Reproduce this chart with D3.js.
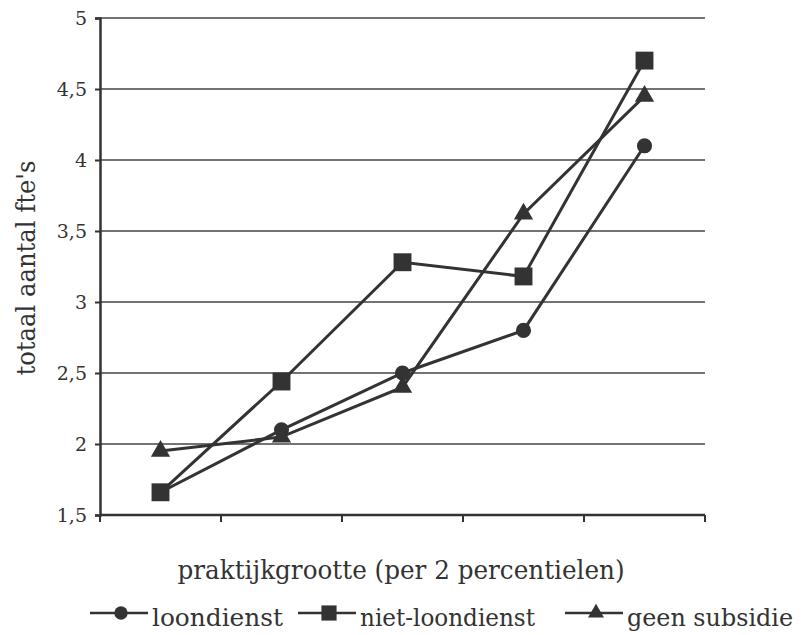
<!DOCTYPE html>
<html lang="nl">
<head>
  <meta charset="UTF-8">
  <title>totaal aantal fte's</title>
  <script src="https://d3js.org/d3.v7.min.js"></script>
  <style>
    body { margin: 0; background: #fff; }
  </style>
</head>
<body>
  <div id="chart"></div>
  <script>
    // ------------------------ Data ------------------------
    const categories = [1, 2, 3, 4, 5];
    const loondienst = [1.66, 2.1, 2.5, 2.8, 4.1];
    const nietLoondienst = [1.66, 2.44, 3.28, 3.18, 4.7];
    const geenSubsidie = [1.95, 2.05, 2.4, 3.62, 4.45];
    const yTicks = [1.5, 2, 2.5, 3, 3.5, 4, 4.5, 5];

    const seriesNames = ["loondienst", "niet-loondienst", "geen subsidie"];
    const seriesShapes = [d3.symbolCircle, d3.symbolSquare, d3.symbolTriangle];
    const seriesValues = [loondienst, nietLoondienst, geenSubsidie];

    // ------------------------ Setup ------------------------
    const W = 804, H = 635;
    const margin = { top: 18, right: 99, bottom: 120, left: 100 };
    const width = W - margin.left - margin.right;
    const height = H - margin.top - margin.bottom;
    const ink = "#333";
    const serif = "'DejaVu Serif', 'Noto Serif', serif";
    const markerSize = [180, 320, 160];
    const legendMarkerSize = [140, 230, 110];

    const svg = d3.select("#chart").append("svg")
      .attr("width", W).attr("height", H)
      .attr("font-family", serif);
    const g = svg.append("g")
      .attr("transform", `translate(${margin.left},${margin.top})`);

    const x = d3.scaleBand().domain(categories).range([0, width]);
    const y = d3.scaleLinear().domain([1.5, 5]).range([height, 0]);

    // gridlines
    g.selectAll(".grid").data(yTicks.slice(1)).enter().append("line")
      .attr("x1", 0).attr("x2", width)
      .attr("y1", d => y(d)).attr("y2", d => y(d))
      .attr("stroke", "#444").attr("stroke-width", 1.3);

    // y axis
    const yAxis = g.append("g")
      .call(d3.axisLeft(y).tickValues(yTicks).tickSize(5).tickPadding(8)
        .tickFormat(d => String(d).replace(".", ",")));
    yAxis.attr("font-family", serif);
    yAxis.select(".domain").attr("stroke", ink).attr("stroke-width", 2.5);
    yAxis.selectAll(".tick line").attr("stroke", ink).attr("stroke-width", 2);
    yAxis.selectAll("text").attr("font-size", 19).attr("fill", ink)
      .attr("font-family", serif);

    // x axis: ticks at band boundaries
    const xAxis = g.append("g").attr("transform", `translate(0,${height})`);
    xAxis.append("line").attr("x1", 0).attr("x2", width)
      .attr("stroke", ink).attr("stroke-width", 2.5);
    const boundaries = categories.map(c => x(c)).concat([x(categories[categories.length - 1]) + x.bandwidth()]);
    xAxis.selectAll(".xt").data(boundaries).enter().append("line")
      .attr("x1", d => d).attr("x2", d => d)
      .attr("y1", 0).attr("y2", 7)
      .attr("stroke", ink).attr("stroke-width", 2);

    // series
    const line = d3.line()
      .x((d, i) => x(categories[i]) + x.bandwidth() / 2)
      .y(d => y(d));

    seriesValues.forEach((vals, si) => {
      g.append("path").datum(vals)
        .attr("d", line)
        .attr("fill", "none").attr("stroke", ink).attr("stroke-width", 3);
      g.selectAll(".m" + si).data(vals).enter().append("path")
        .attr("transform", (d, i) => `translate(${x(categories[i]) + x.bandwidth() / 2},${y(d)})`)
        .attr("d", d3.symbol().type(seriesShapes[si]).size(markerSize[si]))
        .attr("fill", ink);
    });

    // axis titles
    svg.append("text")
      .attr("x", 401).attr("y", 579)
      .attr("text-anchor", "middle").attr("font-size", 26).attr("fill", ink)
      .attr("font-family", serif)
      .attr("textLength", 447).attr("lengthAdjust", "spacingAndGlyphs")
      .text("praktijkgrootte (per 2 percentielen)");
    svg.append("text")
      .attr("transform", "translate(35,268) rotate(-90)")
      .attr("text-anchor", "middle").attr("font-size", 26).attr("fill", ink)
      .attr("font-family", serif)
      .attr("textLength", 215).attr("lengthAdjust", "spacingAndGlyphs")
      .text("totaal aantal fte's");

    // legend
    const legendX = [90, 298, 565];
    const legendTextW = [131, 175, 166];
    seriesNames.forEach((name, i) => {
      const lg = svg.append("g").attr("transform", `translate(${legendX[i]},613)`);
      lg.append("line").attr("x1", 0).attr("x2", 58).attr("y1", 0).attr("y2", 0)
        .attr("stroke", ink).attr("stroke-width", 2.5);
      lg.append("path").attr("transform", "translate(31,0)")
        .attr("d", d3.symbol().type(seriesShapes[i]).size(legendMarkerSize[i]))
        .attr("fill", ink);
      lg.append("text").attr("x", 62).attr("y", 13).attr("font-size", 25)
        .attr("fill", ink).attr("font-family", serif)
        .attr("textLength", legendTextW[i]).attr("lengthAdjust", "spacingAndGlyphs")
        .text(name);
    });
  </script>
</body>
</html>
